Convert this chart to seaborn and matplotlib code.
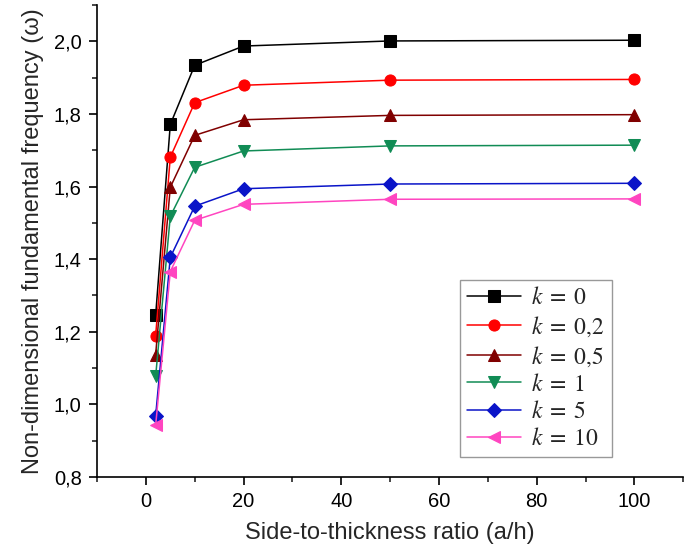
import pandas as pd
import matplotlib.pyplot as plt
import seaborn as sns
from matplotlib.ticker import MultipleLocator, FuncFormatter

# a/h ratios
ratios = [2, 5, 10, 20, 50, 100]

k_labels = ["0", "0{,}2", "0{,}5", "1", "5", "10"]

freq_k0 = [1.245, 1.771, 1.934, 1.987, 2.001, 2.003]
freq_k02 = [1.189, 1.681, 1.831, 1.879, 1.893, 1.895]
freq_k05 = [1.137, 1.598, 1.741, 1.784, 1.796, 1.798]
freq_k1 = [1.077, 1.518, 1.653, 1.698, 1.712, 1.714]
freq_k5 = [0.968, 1.405, 1.546, 1.594, 1.607, 1.609]
freq_k10 = [0.942, 1.366, 1.507, 1.551, 1.565, 1.566]

COLORS = ["#000000", "#FF0000", "#800000", "#118C55", "#0A14C8", "#FF45C0"]
MARKERS = ["s", "o", "^", "v", "D", "<"]

series = [freq_k0, freq_k02, freq_k05, freq_k1, freq_k5, freq_k10]

sns.set_style("ticks")
plt.rcParams["font.family"] = ["Liberation Sans", "DejaVu Sans"]
plt.rcParams["mathtext.fontset"] = "stix"

fig = plt.figure(figsize=(6.85, 5.56), dpi=100)
ax = fig.add_axes([0.1416, 0.142, 0.856, 0.849])

for k, vals, color, marker in zip(k_labels, series, COLORS, MARKERS):
    df = pd.DataFrame({"ratio": ratios, "freq": vals})
    ms = 7 if marker == "D" else 8
    sns.lineplot(
        data=df, x="ratio", y="freq", ax=ax,
        color=color, marker=marker, markersize=ms,
        markeredgecolor=color, linewidth=1.1,
        label=f"$k\\;=\\;{k}$"
    )

ax.set_xlim(-10, 110)
ax.set_ylim(0.8, 2.1)
ax.xaxis.set_major_locator(MultipleLocator(20))
ax.xaxis.set_minor_locator(MultipleLocator(10))
ax.yaxis.set_major_locator(MultipleLocator(0.2))
ax.yaxis.set_minor_locator(MultipleLocator(0.1))
ax.yaxis.set_major_formatter(FuncFormatter(lambda v, p: f"{v:.1f}".replace(".", ",")))

ax.tick_params(axis="both", which="major", direction="out", length=6, width=1.2,
               labelsize=14.5, colors="black", pad=5)
ax.tick_params(axis="both", which="minor", direction="out", length=3.5, width=1.2)

sns.despine(ax=ax)
for side in ["left", "bottom"]:
    ax.spines[side].set_linewidth(1.2)
    ax.spines[side].set_color("black")

ax.set_xlabel("Side-to-thickness ratio (a/h)", fontsize=17, labelpad=8)
ax.set_ylabel("Non-dimensional fundamental frequency (\u03c9)", fontsize=17, labelpad=7)

leg = ax.legend(
    loc="lower left", bbox_to_anchor=(0.619, 0.042), borderaxespad=0,
    prop={"family": "Liberation Serif", "size": 17},
    frameon=True, fancybox=False, edgecolor="#808080",
    handlelength=2.3, labelspacing=0.22, borderpad=0.3, handletextpad=0.4
)
leg.get_frame().set_linewidth(1.0)

fig.savefig("out.png", dpi=100)
